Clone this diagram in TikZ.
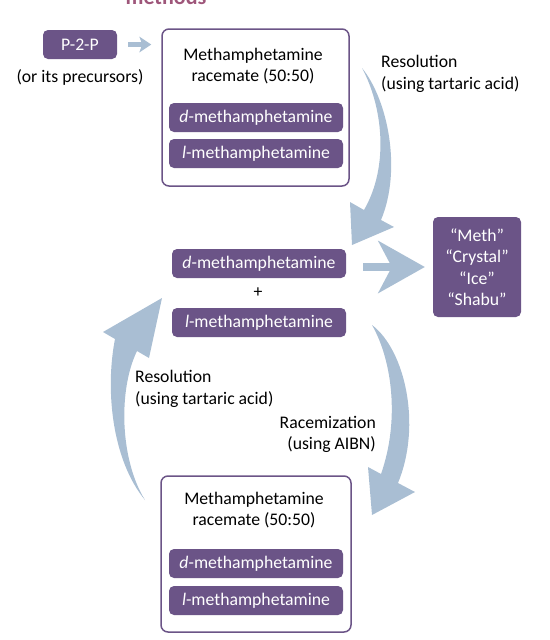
\documentclass[tikz,border=0pt]{standalone}
\usepackage{fontspec}
\setmainfont{Carlito}
\usetikzlibrary{arrows.meta}
\definecolor{methpurple}{RGB}{107,84,135}
\definecolor{arrowblue}{RGB}{169,190,211}
\definecolor{titlerose}{RGB}{158,86,122}
\begin{document}
\begin{tikzpicture}[x=1pt,y=-1pt,
    every node/.style={font=\fontsize{17.7}{21.5}\selectfont,inner sep=0pt},
    chem/.style={fill=methpurple,text=white,rounded corners=5pt,minimum height=29pt},
    racebox/.style={draw=methpurple,line width=1.5pt,fill=white,rounded corners=7pt},
    note/.style={align=left,anchor=west},
    flow/.style={draw=arrowblue}]
      \useasboundingbox (0,0) rectangle (549,640);%

      \node[text=titlerose,font=\fontsize{22}{26}\selectfont\bfseries,anchor=base] (T) at (166,4.5) {methods};%

      \node[chem,minimum width=74pt] (P2P) at (80,44.5) {P-2-P};%
      \node (PT) at (80,77) {(or its precursors)};%

      \node[racebox,minimum width=187pt,minimum height=157pt] (R1) at (255.5,107.5) {};%
      \node[align=center] (R1T) at (253,66) {Methamphetamine\\racemate (50:50)};%
      \node[chem,minimum width=174pt] (D1) at (256,117.5) {\textit{d}-methamphetamine};%
      \node[chem,minimum width=174pt] (L1) at (256,153.5) {\textit{l}-methamphetamine};%

      \node[note] (RS1) at (381,74) {Resolution\\(using tartaric acid)};%

      \node[chem,minimum width=174pt] (D2) at (259,263.5) {\textit{d}-methamphetamine};%
      \node (PL) at (258,293) {+};%
      \node[chem,minimum width=174pt] (L2) at (259,322.5) {\textit{l}-methamphetamine};%

      \node[chem,align=center,minimum width=88pt,minimum height=100pt] (ST) at (477,267)
      {“Meth”\\“Crystal”\\“Ice”\\“Shabu”};%

      \node[note] (RS2) at (135,389) {Resolution\\(using tartaric acid)};%
      \node[align=right,anchor=east] (RC) at (376,434.5) {Racemization\\(using AIBN)};%

      \node[racebox,minimum width=190pt,minimum height=156pt] (R2) at (256,554) {};%
      \node[align=center] (R2T) at (254,510) {Methamphetamine\\racemate (50:50)};%
      \node[chem,minimum width=174pt] (D3) at (256,563.5) {\textit{d}-methamphetamine};%
      \node[chem,minimum width=174pt] (L3) at (256,600.5) {\textit{l}-methamphetamine};%

      \draw[flow,line width=5pt,-{Stealth[length=12pt,width=16pt,inset=3pt,line width=0pt]},
        shorten <=11pt,shorten >=10pt] (P2P.east) -- (P2P.east -| R1.west);%
      \draw[flow,line width=8pt,-{Stealth[length=47pt,width=53pt,inset=14pt,line width=0pt]},
        shorten <=17pt,shorten >=8pt] (ST.west -| D2.east) -- (ST.west);%

      % resolution, top
      \fill[arrowblue] (362,68) .. controls (388,100) and (402,170) .. (381,220)
        -- (394,227) -- (352,245) -- (350,202) -- (364,210)
        .. controls (390,165) and (382,105) .. (362,68) -- cycle;%
      % racemization
      \fill[arrowblue] (372,325) .. controls (405,350) and (422,425) .. (398,483)
        -- (415,492) -- (372,515) -- (368,467) -- (381,474)
        .. controls (400,420) and (392,360) .. (372,325) -- cycle;%
      % resolution, bottom
      \fill[arrowblue] (145,500) .. controls (120,460) and (118,390) .. (137,351)
        -- (149,358) -- (162,298) -- (103,332) -- (115,339)
        .. controls (105,390) and (112,460) .. (145,500) -- cycle;%
    \end{tikzpicture}
\end{document}
